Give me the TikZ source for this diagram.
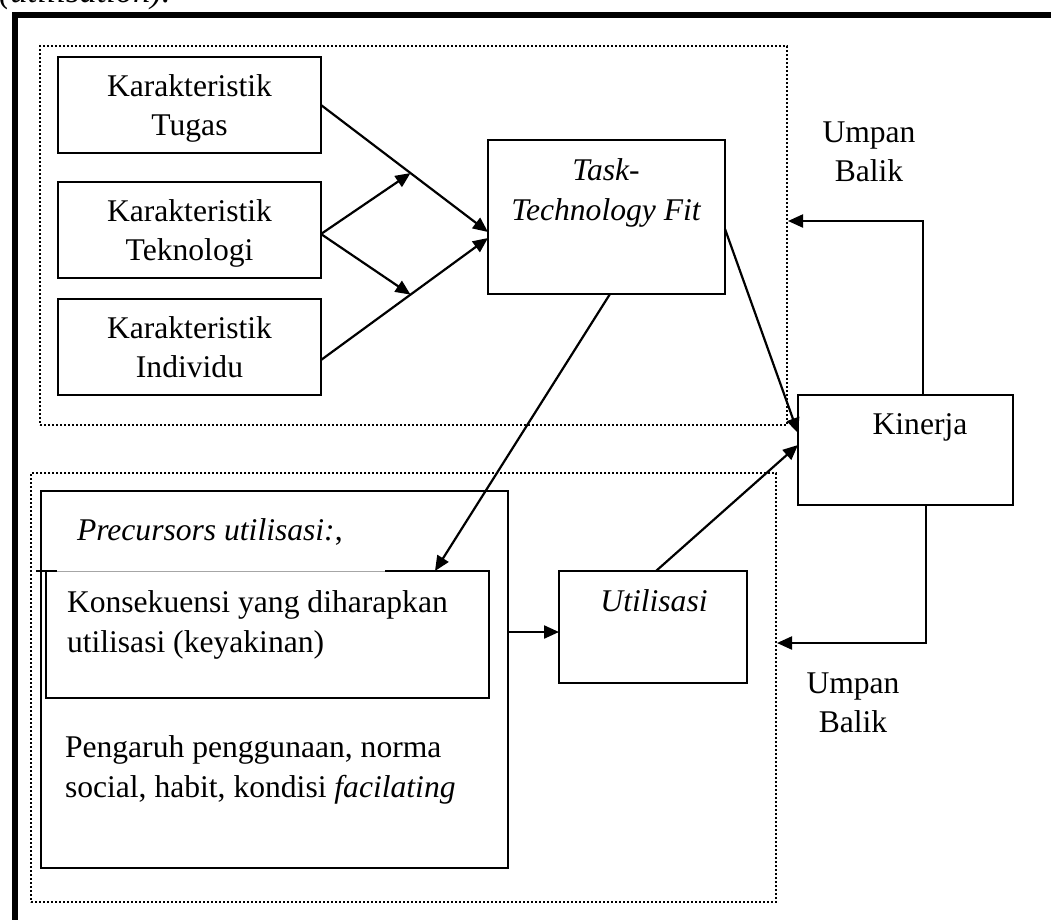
\documentclass[tikz,border=0pt]{standalone}
\usepackage{fontspec}
\setmainfont{Liberation Serif}
\usetikzlibrary{arrows.meta,calc}
\begin{document}
\begin{tikzpicture}[x=1pt,y=-1pt,
  box/.style={draw, line width=2.2pt, rectangle, inner sep=0pt, outer sep=0pt, anchor=north west},
  grp/.style={draw, line width=2.6pt, dash pattern=on 2.2pt off 1.8pt, rectangle, inner sep=0pt, outer sep=0pt, anchor=north west},
  txt/.style={inner sep=0pt, outer sep=0pt, font=\fontsize{31.6}{39}\selectfont},
  arr/.style={line width=2.2pt, -{Triangle[length=15pt,width=13pt]}},
  ln/.style={line width=2.2pt}
]
\clip (0,0) rectangle (1051,919);
\fill[white] (0,0) rectangle (1051,919);

% caption fragment cut off at the top
\node[txt, anchor=base west, font=\fontsize{34.5}{40}\selectfont\itshape] (cap) at (-1,2) {(utilisation).};

% thick outer frame (only top and left visible)
\draw[line width=6pt, line join=miter] (15,940) -- (15,14.5) -- (1070,14.5);

% dotted groups
\node[grp, minimum width=747pt, minimum height=379pt] (topgrp) at (40,46) {};
\node[grp, minimum width=745pt, minimum height=429pt] (botgrp) at (31,473) {};

% boxes
\node[box, minimum width=263pt, minimum height=96pt] (tugas) at (58,57) {};
\node[box, minimum width=263pt, minimum height=96pt] (tekno) at (58,182) {};
\node[box, minimum width=263pt, minimum height=96pt] (indiv) at (58,299) {};
\node[box, minimum width=237pt, minimum height=154pt] (ttf) at (488,140) {};
\node[box, minimum width=215pt, minimum height=110pt] (kinerja) at (798,395) {};
\node[box, minimum width=188pt, minimum height=112pt] (util) at (559,571) {};
\node[box, minimum width=467pt, minimum height=377pt] (prec) at (41,491) {};
\node[box, minimum width=443pt, minimum height=127pt] (konsek) at (46,571) {};
% top edge detail of the Konsekuensi frame
\draw[white, line width=2.8pt] ($(konsek.north west)+(11,0)$) -- ($(konsek.north west)+(339,0)$);
\draw[black!35, line width=0.8pt] ($(konsek.north west)+(11,0)$) -- ($(konsek.north west)+(339,0)$);
\draw[ln] ($(konsek.north west)+(-10,0)$) -- ($(konsek.north west)+(11,0)$);

% texts
\node[txt, align=center, anchor=north] (tugastxt) at (189.5,74.5) {Karakteristik\\Tugas};
\node[txt, align=center, anchor=north] (teknotxt) at (189.5,199.5) {Karakteristik\\Teknologi};
\node[txt, align=center, anchor=north] (indivtxt) at (189.5,316.5) {Karakteristik\\Individu};
\node[txt, align=center, anchor=north, font=\fontsize{31.6}{40}\selectfont\itshape] (ttftxt) at (606,158.5) {Task-\\Technology Fit};
\node[txt, anchor=north] (kinerjatxt) at (920,413.5) {Kinerja};
\node[txt, anchor=north, font=\fontsize{31.6}{39}\selectfont\itshape] (utiltxt) at (654,589.5) {Utilisasi};
\node[txt, align=center, anchor=north] (umpan1) at (869,121.5) {Umpan\\Balik};
\node[txt, align=center, anchor=north] (umpan2) at (853,672.5) {Umpan\\Balik};
\node[txt, anchor=north west] (prectxt) at (77,518.5) {\textit{Precursors utilisasi:},};
\node[txt, align=left, anchor=north west, font=\fontsize{31.6}{40}\selectfont] (konsektxt) at (67,590.5) {Konsekuensi yang diharapkan\\utilisasi (keyakinan)};
\node[txt, align=left, anchor=north west, font=\fontsize{31.6}{40}\selectfont] (pengtxt) at (65,735.5) {Pengaruh penggunaan, norma\\social, habit, kondisi \textit{facilating}};

% connector points
\coordinate (tin1) at ($(ttf.west)+(0,15)$);
\coordinate (tin2) at ($(ttf.west)+(0,21)$);
\coordinate (tugout) at (tugas.east);
\coordinate (indout) at ($(indiv.east)+(0,13)$);
\coordinate (tekout) at ($(tekno.east)+(0,4)$);
\coordinate (j1) at ($(tugout)!0.536!(tin1)$);
\coordinate (j2) at ($(indout)!0.536!(tin2)$);

\draw[arr] (tugout) -- (tin1);
\draw[arr] (indout) -- (tin2);
\draw[arr] (tekout) -- (j1);
\draw[arr] (tekout) -- (j2);

\draw[arr] ($(ttf.south west)+(122,0)$) -- ($(konsek.north west)+(389,0)$);
\draw[arr] ($(ttf.north east)+(0,89)$) -- ($(kinerja.north west)+(0,38)$);
\draw[arr] ($(util.north west)+(97,0)$) -- ($(kinerja.north west)+(0,50)$);
\coordinate (uin) at ($(util.west)+(0,5)$);
\draw[arr] (prec.east |- uin) -- (uin);

\coordinate (fbtop) at ($(topgrp.north east)+(1,175)$);
\coordinate (fbbot) at ($(botgrp.north east)+(1,170)$);
\draw[arr] ($(kinerja.north west)+(125,0)$) |- (fbtop);
\draw[arr] ($(kinerja.south west)+(128,0)$) |- (fbbot);
\end{tikzpicture}
\end{document}
